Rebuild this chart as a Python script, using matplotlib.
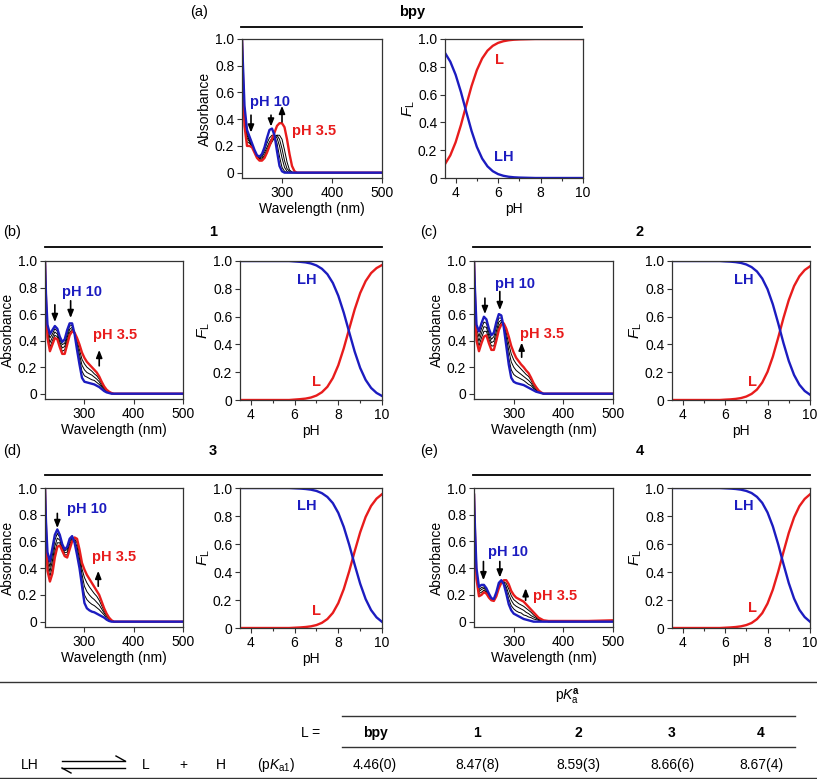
import matplotlib
matplotlib.use("Agg")
import matplotlib.pyplot as plt
from matplotlib.lines import Line2D

plt.rcParams["font.family"] = ["Liberation Sans", "DejaVu Sans"]
plt.rcParams["mathtext.fontset"] = "custom"
plt.rcParams["mathtext.rm"] = "Liberation Sans"
plt.rcParams["mathtext.it"] = "Liberation Sans:italic"
plt.rcParams["mathtext.bf"] = "Liberation Sans:bold"
plt.rcParams["font.size"] = 10

BLUE = "#1c1cc0"
RED = "#e81c1c"
AX = "#333333"

# ---- spectra (wavelength grid, nm) ----
WL = [220, 222, 225, 230, 235, 240, 245, 250, 255, 260, 265, 270, 275, 280, 285,
      290, 295, 300, 305, 310, 315, 320, 325, 330, 335, 340, 345, 350, 355, 360,
      370, 400, 450, 500]

bpy_ph10 = [1.00, 0.80, 0.50, 0.32, 0.27, 0.22, 0.17, 0.13, 0.12, 0.14, 0.19, 0.26, 0.32,
            0.33, 0.28, 0.16, 0.05, 0.01] + [0.0] * 16
bpy_ph35 = [1.00, 0.70, 0.35, 0.20, 0.20, 0.19, 0.15, 0.11, 0.09, 0.09, 0.11, 0.15, 0.20,
            0.25, 0.30, 0.35, 0.37, 0.37, 0.34, 0.25, 0.14, 0.05, 0.01] + [0.0] * 11
bpy_mid = [
    [1.0, 0.78, 0.47, 0.30, 0.25, 0.21, 0.16, 0.125, 0.115, 0.13, 0.17, 0.22, 0.26, 0.28,
     0.27, 0.22, 0.12, 0.04, 0.01] + [0.0] * 15,
    [1.0, 0.76, 0.44, 0.28, 0.24, 0.20, 0.155, 0.12, 0.11, 0.12, 0.15, 0.19, 0.23, 0.26,
     0.28, 0.26, 0.20, 0.11, 0.04, 0.01] + [0.0] * 14,
    [1.0, 0.74, 0.41, 0.26, 0.23, 0.20, 0.155, 0.12, 0.105, 0.11, 0.13, 0.17, 0.21, 0.24,
     0.27, 0.28, 0.25, 0.18, 0.09, 0.03, 0.01] + [0.0] * 13,
    [1.0, 0.72, 0.38, 0.23, 0.22, 0.20, 0.155, 0.115, 0.10, 0.10, 0.12, 0.16, 0.20, 0.23,
     0.26, 0.28, 0.28, 0.25, 0.17, 0.08, 0.02, 0.005] + [0.0] * 12,
]

c1_ph10 = [1.00, 0.75, 0.52, 0.45, 0.48, 0.51, 0.49, 0.43, 0.39, 0.41, 0.48, 0.53, 0.53,
           0.45, 0.33, 0.22, 0.12, 0.09, 0.085, 0.08, 0.075, 0.07, 0.06, 0.05, 0.035, 0.02,
           0.01, 0.005] + [0.0] * 6
c1_ph35 = [1.00, 0.70, 0.42, 0.32, 0.37, 0.42, 0.41, 0.35, 0.30, 0.30, 0.37, 0.44, 0.47,
           0.46, 0.42, 0.37, 0.31, 0.27, 0.24, 0.22, 0.20, 0.18, 0.16, 0.13, 0.09, 0.055,
           0.03, 0.015, 0.005] + [0.0] * 5
c1_mid = [
    [1.0, 0.74, 0.495, 0.42, 0.45, 0.49, 0.47, 0.41, 0.37, 0.38, 0.45, 0.51, 0.515, 0.45,
     0.35, 0.26, 0.17, 0.135, 0.125, 0.115, 0.105, 0.10, 0.085, 0.07, 0.05, 0.03, 0.015,
     0.01, 0.0] + [0.0] * 5,
    [1.0, 0.725, 0.47, 0.385, 0.425, 0.465, 0.45, 0.39, 0.345, 0.355, 0.425, 0.485, 0.50,
     0.455, 0.375, 0.295, 0.215, 0.18, 0.16, 0.15, 0.14, 0.125, 0.11, 0.09, 0.06, 0.04,
     0.02, 0.01, 0.005] + [0.0] * 5,
    [1.0, 0.71, 0.445, 0.35, 0.40, 0.44, 0.43, 0.37, 0.32, 0.33, 0.40, 0.46, 0.485, 0.46,
     0.40, 0.33, 0.26, 0.225, 0.20, 0.185, 0.17, 0.15, 0.135, 0.11, 0.075, 0.045, 0.025,
     0.01, 0.005] + [0.0] * 5,
]

c2_ph10 = [1.0, 0.78, 0.52, 0.47, 0.53, 0.58, 0.56, 0.49, 0.44, 0.46, 0.54, 0.60, 0.59,
           0.50, 0.36, 0.22, 0.12, 0.09, 0.08, 0.075, 0.07, 0.065, 0.055, 0.045, 0.035,
           0.025, 0.015, 0.01, 0.005] + [0.0] * 5
c2_ph35 = [1.0, 0.72, 0.40, 0.32, 0.38, 0.43, 0.44, 0.38, 0.33, 0.33, 0.40, 0.48, 0.52,
           0.53, 0.49, 0.43, 0.36, 0.31, 0.27, 0.245, 0.22, 0.20, 0.175, 0.155, 0.12,
           0.08, 0.05, 0.025, 0.01] + [0.0] * 5
c2_mid = [
    [1.0, 0.765, 0.49, 0.43, 0.49, 0.54, 0.53, 0.46, 0.41, 0.43, 0.505, 0.57, 0.57, 0.51,
     0.395, 0.27, 0.18, 0.145, 0.13, 0.12, 0.11, 0.10, 0.085, 0.07, 0.06, 0.04, 0.025,
     0.015, 0.005] + [0.0] * 5,
    [1.0, 0.75, 0.46, 0.395, 0.455, 0.505, 0.50, 0.435, 0.385, 0.395, 0.47, 0.54, 0.555,
     0.515, 0.425, 0.325, 0.24, 0.20, 0.175, 0.16, 0.145, 0.13, 0.115, 0.10, 0.08, 0.05,
     0.03, 0.02, 0.01] + [0.0] * 5,
    [1.0, 0.735, 0.43, 0.36, 0.42, 0.47, 0.47, 0.41, 0.36, 0.36, 0.435, 0.51, 0.54, 0.52,
     0.46, 0.375, 0.30, 0.255, 0.225, 0.205, 0.185, 0.165, 0.145, 0.13, 0.10, 0.065,
     0.04, 0.02, 0.01] + [0.0] * 5,
]

c3_ph10 = [1.0, 0.75, 0.52, 0.45, 0.55, 0.65, 0.69, 0.65, 0.58, 0.54, 0.56, 0.62, 0.64,
           0.59, 0.50, 0.40, 0.27, 0.14, 0.10, 0.085, 0.075, 0.07, 0.06, 0.05, 0.04, 0.03,
           0.015, 0.005, 0.0] + [0.0] * 5
c3_ph35 = [1.0, 0.68, 0.38, 0.30, 0.36, 0.48, 0.56, 0.57, 0.53, 0.49, 0.48, 0.54, 0.60,
           0.63, 0.62, 0.54, 0.44, 0.39, 0.35, 0.32, 0.29, 0.26, 0.23, 0.20, 0.15, 0.10,
           0.06, 0.03, 0.01] + [0.0] * 5
c3_mid = [
    [1.0, 0.73, 0.485, 0.41, 0.50, 0.61, 0.66, 0.63, 0.57, 0.53, 0.54, 0.60, 0.63, 0.60,
     0.53, 0.435, 0.31, 0.20, 0.165, 0.145, 0.13, 0.12, 0.105, 0.09, 0.07, 0.05, 0.025,
     0.01, 0.005] + [0.0] * 5,
    [1.0, 0.715, 0.45, 0.375, 0.455, 0.565, 0.625, 0.61, 0.555, 0.515, 0.52, 0.58, 0.62,
     0.61, 0.56, 0.47, 0.355, 0.265, 0.225, 0.20, 0.18, 0.165, 0.145, 0.125, 0.095,
     0.065, 0.04, 0.02, 0.005] + [0.0] * 5,
    [1.0, 0.70, 0.415, 0.34, 0.41, 0.52, 0.59, 0.59, 0.54, 0.50, 0.50, 0.56, 0.61, 0.62,
     0.59, 0.505, 0.395, 0.33, 0.29, 0.26, 0.235, 0.21, 0.19, 0.16, 0.12, 0.08, 0.05,
     0.025, 0.01] + [0.0] * 5,
]

c4_ph10 = [0.95, 0.70, 0.40, 0.26, 0.275, 0.275, 0.25, 0.21, 0.175, 0.17, 0.22, 0.29,
           0.31, 0.28, 0.21, 0.13, 0.085, 0.06, 0.05, 0.04, 0.03, 0.02, 0.015, 0.01,
           0.005] + [0.0] * 9
c4_ph35 = [0.95, 0.65, 0.32, 0.19, 0.20, 0.22, 0.21, 0.18, 0.16, 0.155, 0.19, 0.25, 0.29,
           0.31, 0.31, 0.28, 0.23, 0.20, 0.18, 0.17, 0.16, 0.15, 0.13, 0.11, 0.09, 0.07,
           0.05, 0.03, 0.02, 0.01, 0.005, 0.005, 0.005, 0.01]
c4_mid = [
    [0.95, 0.69, 0.38, 0.24, 0.255, 0.26, 0.24, 0.20, 0.17, 0.165, 0.21, 0.28, 0.305, 0.29,
     0.235, 0.17, 0.12, 0.095, 0.08, 0.07, 0.065, 0.05, 0.045, 0.035, 0.03, 0.02, 0.015,
     0.01, 0.005] + [0.0] * 5,
    [0.95, 0.675, 0.36, 0.225, 0.24, 0.25, 0.23, 0.195, 0.17, 0.16, 0.205, 0.27, 0.30,
     0.295, 0.26, 0.205, 0.16, 0.13, 0.115, 0.105, 0.095, 0.085, 0.07, 0.06, 0.045,
     0.035, 0.025, 0.015, 0.01, 0.005] + [0.0] * 4,
    [0.95, 0.66, 0.34, 0.21, 0.22, 0.235, 0.22, 0.19, 0.165, 0.16, 0.20, 0.26, 0.295, 0.30,
     0.285, 0.245, 0.195, 0.165, 0.15, 0.135, 0.125, 0.115, 0.10, 0.085, 0.07, 0.05,
     0.035, 0.02, 0.015, 0.005] + [0.0] * 4,
]

# ---- speciation (fraction vs pH) ----
PH = [3.5, 3.75, 4.0, 4.25, 4.5, 4.75, 5.0, 5.25, 5.5, 5.75, 6.0, 6.25, 6.5, 6.75, 7.0,
      7.25, 7.5, 7.75, 8.0, 8.25, 8.5, 8.75, 9.0, 9.25, 9.5, 9.75, 10.0]

bpy_L = [0.10, 0.163, 0.257, 0.381, 0.523, 0.661, 0.776, 0.86, 0.916, 0.951, 0.972, 0.984,
         0.991, 0.995, 0.997, 0.998, 0.999] + [1.0] * 10
bpy_LH = [0.90, 0.837, 0.743, 0.619, 0.477, 0.339, 0.224, 0.14, 0.084, 0.049, 0.028, 0.016,
          0.009, 0.005, 0.003, 0.002, 0.001] + [0.0] * 10
c1_L = [0.0] * 10 + [0.003, 0.006, 0.01, 0.018, 0.032, 0.056, 0.095, 0.158, 0.25, 0.372,
                     0.513, 0.652, 0.769, 0.855, 0.913, 0.949, 0.971]
c1_LH = [1.0] * 10 + [0.997, 0.994, 0.99, 0.982, 0.968, 0.944, 0.905, 0.842, 0.75, 0.628,
                      0.487, 0.348, 0.231, 0.145, 0.087, 0.051, 0.029]
c2_L = [0.0] * 10 + [0.0025, 0.0045, 0.008, 0.014, 0.025, 0.044, 0.075, 0.126, 0.203, 0.312,
                     0.447, 0.59, 0.719, 0.82, 0.89, 0.935, 0.962]
c2_LH = [1.0] * 10 + [0.9975, 0.9955, 0.992, 0.986, 0.975, 0.956, 0.925, 0.874, 0.797,
                      0.688, 0.553, 0.41, 0.281, 0.18, 0.11, 0.065, 0.038]
c3_L = [0.0] * 10 + [0.002, 0.004, 0.007, 0.012, 0.021, 0.037, 0.064, 0.108, 0.178, 0.278,
                     0.406, 0.548, 0.683, 0.793, 0.872, 0.924, 0.956]
c3_LH = [1.0] * 10 + [0.998, 0.996, 0.993, 0.988, 0.979, 0.963, 0.936, 0.892, 0.822, 0.722,
                      0.594, 0.452, 0.317, 0.207, 0.128, 0.076, 0.044]
c4_L = [0.0] * 10 + [0.002, 0.004, 0.007, 0.012, 0.021, 0.036, 0.063, 0.106, 0.175, 0.274,
                     0.401, 0.543, 0.679, 0.79, 0.87, 0.922, 0.955]
c4_LH = [1.0] * 10 + [0.998, 0.996, 0.993, 0.988, 0.979, 0.964, 0.937, 0.894, 0.825, 0.726,
                      0.599, 0.457, 0.321, 0.21, 0.13, 0.078, 0.045]

# ---- table ----
ligands = ["bpy", "1", "2", "3", "4"]
pka1 = ["4.46(0)", "8.47(8)", "8.59(3)", "8.66(6)", "8.67(4)"]

W, H = 817, 779
fig = plt.figure(figsize=(W / 100, H / 100), dpi=100)


def px_axes(l, t, r, b):
    return fig.add_axes([l / W, 1 - b / H, (r - l) / W, (b - t) / H])


def fig_line(x0, x1, y, lw=1.3, color="k"):
    fig.add_artist(Line2D([x0 / W, x1 / W], [1 - y / H, 1 - y / H],
                          transform=fig.transFigure, color=color, lw=lw))


def fig_text(x, y, s, **kw):
    fig.text(x / W, 1 - y / H, s, va="center", **kw)


def style(ax):
    for sp in ax.spines.values():
        sp.set_color(AX)
        sp.set_linewidth(0.9)
    ax.tick_params(direction="out", length=3.5, width=0.8, color=AX, labelsize=10, pad=2)


def arrow(ax, x, y0, y1):
    ax.annotate("", xy=(x, y1), xytext=(x, y0),
                arrowprops=dict(arrowstyle="-|>,head_length=0.45,head_width=0.18",
                                color="k", lw=1.2, shrinkA=0, shrinkB=0))


def spectrum(rect, blue, red, mids, lab10, lab35, arrows):
    ax = px_axes(*rect)
    for m in mids:
        ax.plot(WL, m, color="k", lw=0.7)
    ax.plot(WL, red, color=RED, lw=1.7)
    ax.plot(WL, blue, color=BLUE, lw=1.7)
    ax.set_xlim(220, 500)
    ax.set_ylim(-0.04, 1.0)
    ax.set_xticks([300, 400, 500])
    ax.set_yticks([0, 0.2, 0.4, 0.6, 0.8, 1.0])
    ax.set_yticklabels(["0", "0.2", "0.4", "0.6", "0.8", "1.0"])
    ax.set_xlabel("Wavelength (nm)", fontsize=10, labelpad=2)
    ax.set_ylabel("Absorbance", fontsize=10, labelpad=2)
    ax.text(lab10[0], lab10[1], "pH 10", color=BLUE, fontsize=10.5,
            fontweight="bold", va="center")
    ax.text(lab35[0], lab35[1], "pH 3.5", color=RED, fontsize=10.5,
            fontweight="bold", va="center")
    for a in arrows:
        arrow(ax, *a)
    style(ax)


def fraction(rect, L, LH, posL, posLH):
    ax = px_axes(*rect)
    ax.plot(PH, L, color=RED, lw=1.7)
    ax.plot(PH, LH, color=BLUE, lw=1.7)
    ax.set_xlim(3.5, 10)
    ax.set_ylim(0, 1.0)
    ax.set_xticks([4, 6, 8, 10])
    ax.set_xticks([5, 7, 9], minor=True)
    ax.set_yticks([0, 0.2, 0.4, 0.6, 0.8, 1.0])
    ax.set_yticklabels(["0", "0.2", "0.4", "0.6", "0.8", "1.0"])
    ax.set_xlabel("pH", fontsize=10, labelpad=2)
    ax.set_ylabel(r"$F_{\mathrm{L}}$", fontsize=11, labelpad=1)
    ax.text(posL[0], posL[1], "L", color=RED, fontsize=10.5, fontweight="bold",
            ha="center", va="center")
    ax.text(posLH[0], posLH[1], "LH", color=BLUE, fontsize=10.5, fontweight="bold",
            ha="center", va="center")
    style(ax)
    ax.tick_params(which="minor", direction="out", length=2.5, width=0.8, color=AX)


# (a) bpy
fig_text(190, 12, "(a)", fontsize=10.5)
fig_text(412, 12, "bpy", fontsize=10.5, fontweight="bold", ha="center")
fig_line(241, 582, 27)
spectrum((242, 39, 382, 178), bpy_ph10, bpy_ph35, bpy_mid, (236, 0.53), (319, 0.31),
         [(238, 0.43, 0.30), (278, 0.43, 0.345), (300, 0.38, 0.50)])
fraction((445, 39, 583, 178), bpy_L, bpy_LH, (6.05, 0.85), (6.25, 0.15))

# (b) 1
fig_text(3, 232, "(b)", fontsize=10.5)
fig_text(213, 232, "1", fontsize=10.5, fontweight="bold", ha="center")
fig_line(45, 382, 247)
spectrum((45, 261, 183, 399), c1_ph10, c1_ph35, c1_mid, (255, 0.77), (317, 0.44),
         [(240, 0.67, 0.54), (272, 0.70, 0.57), (330, 0.21, 0.33)])
fraction((240, 261, 382, 400), c1_L, c1_LH, (7.0, 0.13), (6.55, 0.86))

# (c) 2
fig_text(420, 232, "(c)", fontsize=10.5)
fig_text(640, 232, "2", fontsize=10.5, fontweight="bold", ha="center")
fig_line(473, 810, 247)
spectrum((474, 261, 613, 399), c2_ph10, c2_ph35, c2_mid, (262, 0.83), (313, 0.45),
         [(242, 0.72, 0.60), (272, 0.77, 0.63), (316, 0.275, 0.385)])
fraction((672, 261, 810, 400), c2_L, c2_LH, (7.3, 0.13), (6.9, 0.86))

# (d) 3
fig_text(3, 451, "(d)", fontsize=10.5)
fig_text(213, 451, "3", fontsize=10.5, fontweight="bold", ha="center")
fig_line(45, 382, 475)
spectrum((45, 488, 183, 627), c3_ph10, c3_ph35, c3_mid, (264, 0.84), (315, 0.48),
         [(245, 0.81, 0.70), (328, 0.265, 0.38)])
fraction((240, 488, 382, 628), c3_L, c3_LH, (7.0, 0.12), (6.55, 0.87))

# (e) 4
fig_text(420, 451, "(e)", fontsize=10.5)
fig_text(640, 451, "4", fontsize=10.5, fontweight="bold", ha="center")
fig_line(473, 810, 475)
spectrum((474, 488, 613, 627), c4_ph10, c4_ph35, c4_mid, (248, 0.52), (339, 0.19),
         [(239, 0.45, 0.31), (272, 0.45, 0.33), (324, 0.16, 0.25)])
fraction((672, 488, 810, 628), c4_L, c4_LH, (7.3, 0.14), (6.9, 0.87))

# ---- table ----
TF = ["Liberation Sans Narrow", "Liberation Sans", "DejaVu Sans"]
fig_line(0, 817, 682, lw=1.0, color=AX)
fig_line(342, 795, 716, lw=1.0, color=AX)
fig_line(342, 795, 747, lw=1.0, color=AX)
fig_line(0, 817, 778, lw=1.0, color=AX)
fig_text(568, 697, r"p$K_{\mathrm{a}}^{\mathbf{a}}$", fontsize=10, ha="center",
         family=TF)
fig_text(320, 733, "L =", fontsize=10, ha="right", family=TF)
col_x = [375, 477, 578, 672, 761]
for x, lig, val in zip(col_x, ligands, pka1):
    fig_text(x, 733, lig, fontsize=10, ha="center", fontweight="bold", family=TF)
    fig_text(x, 765, val, fontsize=10, ha="center", family=TF)
fig_text(30, 765, "LH", fontsize=10, ha="center", family=TF)
fig_text(146, 765, "L", fontsize=10, ha="center", family=TF)
fig_text(183, 765, "+", fontsize=10, ha="center", family=TF)
fig_text(221, 765, "H", fontsize=10, ha="center", family=TF)
fig_text(276, 765, r"(p$K_{\mathrm{a1}}$)", fontsize=10, ha="center", family=TF)
# equilibrium harpoons
fig_line(62, 125, 761, lw=1.0)
fig_line(62, 125, 768, lw=1.0)
fig.add_artist(Line2D([125 / W, 116 / W], [1 - 761 / H, 1 - 756 / H],
                      transform=fig.transFigure, color="k", lw=1.0))
fig.add_artist(Line2D([62 / W, 71 / W], [1 - 768 / H, 1 - 773 / H],
                      transform=fig.transFigure, color="k", lw=1.0))

fig.savefig("out.png", dpi=100)
